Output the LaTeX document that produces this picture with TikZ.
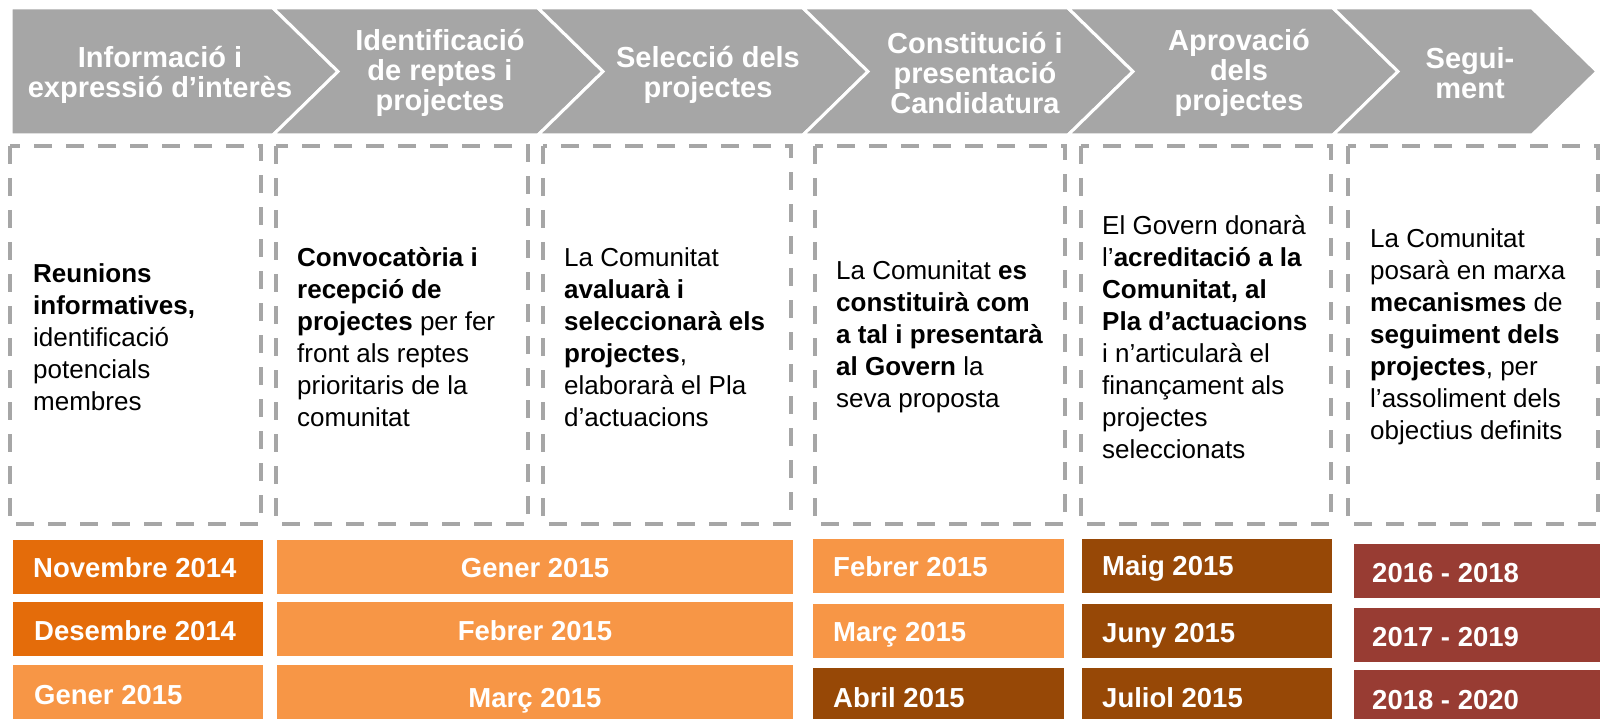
\documentclass[tikz,border=0pt]{standalone}
\usepackage{fontspec}
\setmainfont{Liberation Sans}
\usepackage{tikz}
\definecolor{bannergray}{HTML}{A6A6A6}
\definecolor{darkorange}{HTML}{E46C0A}
\definecolor{lightorange}{HTML}{F79646}
\definecolor{brownish}{HTML}{974806}
\definecolor{darkred}{HTML}{983C33}
\def\chevron(#1:#2){\filldraw[fill=bannergray, draw=white, line width=3] (#1, 8) -- (#2, 8) -- (#2+65, 71.5) -- (#2, 135) -- (#1, 135) -- (#1+65, 71.5) -- cycle;}
\tikzset{
	headtext/.style={text=white, font=\bfseries\fontsize{29}{30}\selectfont, align=center, inner sep=0},
	bodytext/.style={text=black, font=\fontsize{26}{32}\selectfont, align=left, inner sep=0, anchor=west},
	datetext/.style={text=white, font=\bfseries\fontsize{27.5}{30}\selectfont, inner sep=0, anchor=base west}
	,dashbox/.style={draw=bannergray, line width=4, dash pattern=on 18 off 14}
}

\begin{document}
\begin{tikzpicture}[x=1pt, y=-1pt]
			%%%%% START %%%%%
			\useasboundingbox (0, 0) rectangle (1600, 719);
			
			\filldraw[fill=bannergray, draw=white, line width=3] (11, 8) -- (273, 8) -- (338, 71.5) -- (273, 135) -- (11, 135) -- cycle;
			\chevron(273:538)
			\chevron(538:803)
			\chevron(803:1068)
			\chevron(1068:1333)
			\chevron(1333:1532)
			
			\node[headtext] (hinfo) at (160, 75) {Informació i\\expressió d’interès};
			\node[headtext] (hident) at (440, 73) {Identificació\\de reptes i\\projectes};
			\node[headtext] (hsel) at (708, 75) {Selecció dels\\projectes};
			\node[headtext] (hcons) at (975, 73) {Constitució i\\presentació\\Candidatura};
			\node[headtext] (haprov) at (1239, 73) {Aprovació\\dels\\projectes};
			\node[headtext] (hseg) at (1470, 73) {Segui-\\ment};
			
			\draw[dashbox] (10, 146) rectangle (261, 524);
			\draw[dashbox] (276, 146) rectangle (528, 524);
			\draw[dashbox] (543, 146) rectangle (791, 524);
			\draw[dashbox] (815, 146) rectangle (1065, 524);
			\draw[dashbox] (1081, 146) rectangle (1331, 524);
			\draw[dashbox] (1348, 146) rectangle (1598, 524);
			
			\node[bodytext] (binfo) at (33, 337) {\textbf{Reunions}\\\textbf{informatives,}\\identificació\\potencials\\membres};
			\node[bodytext] (bident) at (297, 337) {\textbf{Convocatòria i}\\\textbf{recepció de}\\\textbf{projectes} per fer\\front als reptes\\prioritaris de la\\comunitat};
			\node[bodytext] (bsel) at (564, 337) {La Comunitat\\\textbf{avaluarà i}\\\textbf{seleccionarà els}\\\textbf{projectes},\\elaborarà el Pla\\d’actuacions};
			\node[bodytext] (bcons) at (836, 337) {La Comunitat \textbf{es}\\\textbf{constituirà com}\\\textbf{a tal i presentarà}\\\textbf{al Govern} la\\seva proposta};
			\node[bodytext] (baprov) at (1102, 337) {El Govern donarà\\l’\textbf{acreditació a la}\\\textbf{Comunitat, al}\\\textbf{Pla d’actuacions}\\i n’articularà el\\finançament als\\projectes\\seleccionats};
			\node[bodytext] (bseg) at (1370, 337) {La Comunitat\\posarà en marxa\\\textbf{mecanismes} de\\\textbf{seguiment dels}\\\textbf{projectes}, per\\l’assoliment dels\\objectius definits};
			
			\fill[darkorange] (13, 540) rectangle (263, 594);
			\fill[darkorange] (13, 602) rectangle (263, 656);
			\fill[lightorange] (13, 665) rectangle (263, 719);
			\node[datetext] (nov14) at (33, 577) {Novembre 2014};
			\node[datetext] (des14) at (34, 640) {Desembre 2014};
			\node[datetext] (gen15a) at (34, 704) {Gener 2015};
			
			\fill[lightorange] (277, 540) rectangle (793, 594);
			\fill[lightorange] (277, 602) rectangle (793, 656);
			\fill[lightorange] (277, 665) rectangle (793, 719);
			\node[datetext, anchor=base] (gen15b) at (535, 577) {Gener 2015};
			\node[datetext, anchor=base] (feb15b) at (535, 640) {Febrer 2015};
			\node[datetext, anchor=base] (mar15b) at (535, 707) {Març 2015};
			
			\fill[lightorange] (813, 539) rectangle (1064, 593);
			\fill[lightorange] (813, 604) rectangle (1064, 658);
			\fill[brownish] (813, 668) rectangle (1064, 719);
			\node[datetext] (feb15c) at (833, 576) {Febrer 2015};
			\node[datetext] (mar15c) at (833, 641) {Març 2015};
			\node[datetext] (abr15) at (833, 707) {Abril 2015};
			
			\fill[brownish] (1082, 539) rectangle (1332, 593);
			\fill[brownish] (1082, 604) rectangle (1332, 658);
			\fill[brownish] (1082, 668) rectangle (1332, 719);
			\node[datetext] (mai15) at (1102, 575) {Maig 2015};
			\node[datetext] (jun15) at (1102, 642) {Juny 2015};
			\node[datetext] (jul15) at (1102, 707) {Juliol 2015};
			
			\fill[darkred] (1354, 544) rectangle (1600, 598);
			\fill[darkred] (1354, 608) rectangle (1600, 662);
			\fill[darkred] (1354, 670) rectangle (1600, 719);
			\node[datetext] (p1618) at (1372, 582) {2016 - 2018};
			\node[datetext] (p1719) at (1372, 646) {2017 - 2019};
			\node[datetext] (p1820) at (1372, 709) {2018 - 2020};
			
			%%%%% END %%%%%
\end{tikzpicture}
\end{document}
